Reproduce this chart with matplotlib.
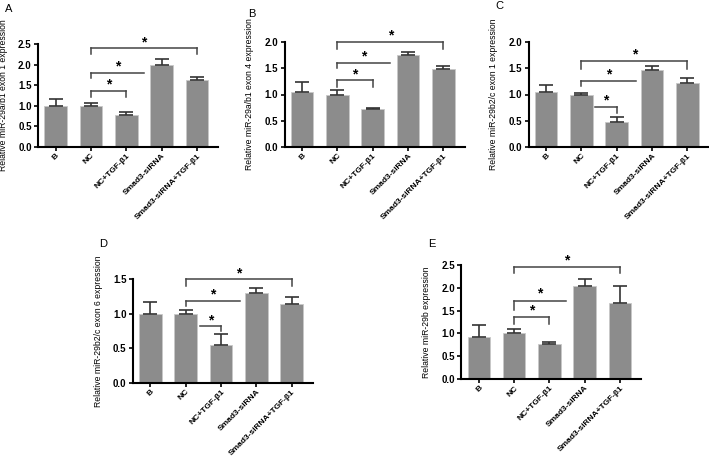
import numpy as np
import matplotlib
matplotlib.use("Agg")
import matplotlib.pyplot as plt

plt.rcParams['font.family'] = ['Liberation Sans', 'DejaVu Sans']

groups = ["B", "NC", "NC+TGF-β1", "Smad3-siRNA", "Smad3-siRNA+TGF-β1"]

a_mean = [1.0, 1.0, 0.77, 2.0, 1.63]
a_err = [0.16, 0.07, 0.07, 0.13, 0.06]
b_mean = [1.05, 1.0, 0.72, 1.75, 1.48]
b_err = [0.18, 0.09, 0.02, 0.06, 0.07]
c_mean = [1.04, 1.0, 0.48, 1.47, 1.22]
c_err = [0.15, 0.03, 0.08, 0.08, 0.10]
d_mean = [1.0, 1.0, 0.55, 1.30, 1.14]
d_err = [0.17, 0.06, 0.15, 0.07, 0.10]
e_mean = [0.92, 1.01, 0.76, 2.04, 1.67]
e_err = [0.26, 0.09, 0.06, 0.15, 0.38]

ylabels = ["Relative miR-29a/b1 exon 1 expression",
           "Relative miR-29a/b1 exon 4 expression",
           "Relative miR-29b2/c exon 1 expression",
           "Relative miR-29b2/c exon 6 expression",
           "Relative miR-29b expression"]
letters = ["A", "B", "C", "D", "E"]
ymax = [2.5, 2.0, 2.0, 1.5, 2.5]

# significance brackets: (x1, x2, y, left tick end, right tick end)
a_sig = [(1, 4, 2.40, 2.26, 2.26), (1, 2.5, 1.81, 1.67, None), (1, 2, 1.36, 1.22, 1.22)]
b_sig = [(1, 4, 2.01, 1.87, 1.87), (1, 2.5, 1.60, 1.50, None), (1, 2, 1.27, 1.14, 1.14)]
c_sig = [(1, 4, 1.64, 1.49, 1.49), (1, 2.56, 1.26, 1.16, None), (1.37, 2, 0.77, None, 0.65)]
d_sig = [(1, 4, 1.50, 1.41, 1.41), (1, 2.55, 1.185, 1.11, None), (1.4, 2, 0.82, None, 0.745)]
e_sig = [(1, 4, 2.46, 2.33, 2.33), (1, 2.47, 1.72, 1.51, None), (1, 2, 1.35, 1.21, 1.21)]

W, H = 709, 458
# pixel boxes: left, top, right, bottom
boxes = [(38, 44.3, 218, 146.7),
         (284.5, 42.3, 464.5, 146.7),
         (528.5, 42.3, 708.5, 146.7),
         (132.8, 279.3, 312.8, 382.7),
         (461.2, 265, 641.2, 379)]
# letter positions (pixels)
letter_pos = [(5, 4), (248, 9), (495, 1), (99, 239), (428, 239)]

fig = plt.figure(figsize=(W / 100, H / 100), dpi=100)

panels = [(a_mean, a_err, a_sig), (b_mean, b_err, b_sig), (c_mean, c_err, c_sig),
          (d_mean, d_err, d_sig), (e_mean, e_err, e_sig)]

x = np.arange(len(groups))
for i, (means, errs, sigs) in enumerate(panels):
    l, t, r, b = boxes[i]
    ax = fig.add_axes([l / W, 1 - b / H, (r - l) / W, (b - t) / H])
    ax.bar(x, means, width=0.64, color="#8c8c8c", edgecolor="#c8c8c8", linewidth=0.6, zorder=2)
    ax.errorbar(x, means, yerr=[np.zeros(len(errs)), errs], fmt="none",
                ecolor="#333333", elinewidth=1.2, capsize=5, capthick=1.2, zorder=3)
    ax.set_xlim(-0.5, 4.6)
    ax.set_ylim(0, ymax[i])
    ticks = np.arange(0, ymax[i] + 0.01, 0.5)
    ax.set_yticks(ticks)
    ax.set_yticklabels([f"{v:.1f}" for v in ticks], fontsize=7, fontweight="bold")
    ax.set_xticks(x)
    ax.set_xticklabels(groups, rotation=45, ha="right", rotation_mode="anchor",
                       fontsize=6.0, fontweight="bold")
    for side in ["top", "right"]:
        ax.spines[side].set_visible(False)
    for side in ["left", "bottom"]:
        ax.spines[side].set_linewidth(1.5)
    ax.tick_params(axis="both", direction="out", length=3, width=1.2, pad=1.5)
    ax.tick_params(axis="x", pad=1)
    ax.set_ylabel(ylabels[i], fontsize=6.2)
    ax.yaxis.set_label_coords(-30 / (r - l), 0.5)

    for (x1, x2, y, lt, rt) in sigs:
        ax.plot([x1, x2], [y, y], color="#444444", lw=1.1, clip_on=False, zorder=4)
        if lt is not None:
            ax.plot([x1, x1], [y, lt], color="#444444", lw=1.1, clip_on=False, zorder=4)
        if rt is not None:
            ax.plot([x2, x2], [y, rt], color="#444444", lw=1.1, clip_on=False, zorder=4)
        ax.text((x1 + x2) / 2, y + 0.06 * ymax[i], "*", ha="center", va="center",
                fontsize=10, fontweight="bold", clip_on=False)

    lx, ly = letter_pos[i]
    fig.text(lx / W, 1 - ly / H, letters[i], ha="left", va="top", fontsize=8)

fig.savefig("out.png", dpi=100)
